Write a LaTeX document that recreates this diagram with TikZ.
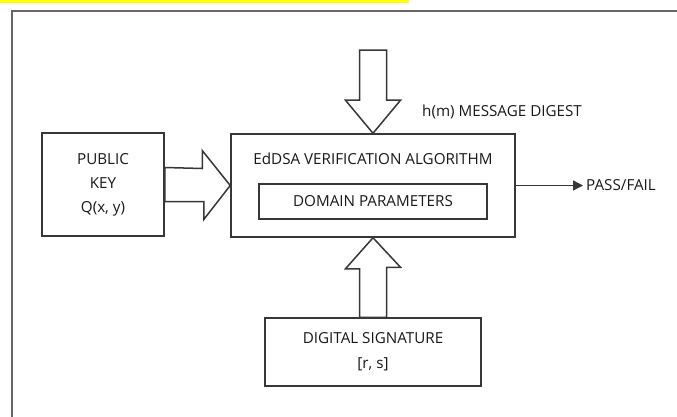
\documentclass[tikz,border=0pt]{standalone}
\usepackage{fontspec}
\setmainfont{Open Sans}
\usetikzlibrary{arrows.meta}
\definecolor{hilite}{RGB}{255,255,0}
\definecolor{linegray}{RGB}{55,55,55}

\begin{document}
\begin{tikzpicture}[x=1pt,y=-1pt,
    box/.style={draw=linegray, line width=1.5pt, fill=white, text=black!90, align=center, inner sep=0pt},
    fat/.style={draw=linegray, line width=1.5pt, line join=miter, fill=white},
    txt/.style={text=black!90, inner sep=0pt, font=\fontsize{15.2}{24}\selectfont}]
    \useasboundingbox (0,0) rectangle (677,417);
    \fill[hilite] (0,0) rectangle (409,3);
    \draw[black!60, line width=2pt] (12,418) -- (12,11) -- (678,11);

    \node[box, minimum width=122pt, minimum height=103pt, font=\fontsize{15.2}{24}\selectfont] (pubkey) at (103,184.5) {PUBLIC\\KEY\\Q(x, y)};
    \node[box, minimum width=284pt, minimum height=103pt] (verify) at (373,185.5) {};
    \node[txt] (title) at (373,159) {EdDSA VERIFICATION ALGORITHM};
    \node[box, minimum width=228pt, minimum height=35pt, font=\fontsize{15.2}{24}\selectfont] (domain) at (373,201.5) {DOMAIN PARAMETERS};
    \node[box, minimum width=216pt, minimum height=68pt, font=\fontsize{15.2}{25}\selectfont] (sig) at (373,352) {DIGITAL SIGNATURE\\{[r, s]}};
    \node[txt, anchor=west] (digest) at (422,112) {h(m) MESSAGE DIGEST};
    \node[txt, anchor=west] (pass) at (586,185.5) {PASS/FAIL};

    \draw[fat] (verify.north) -- ++(-27.5,-33) -- ++(14,0) -- ++(0,-50) -- ++(27,0) -- ++(0,50) -- ++(14,0) -- cycle;
    \draw[fat] (verify.south) -- ++(-27.5,31) -- ++(14,0) -- (sig.north -| 359.5,0) -- (sig.north -| 386.5,0) -- ++(0,-50) -- ++(14,0) -- cycle;
    \draw[fat] (verify.west) -- ++(-28,-35) -- ++(0,18) -- (pubkey.east |- 0,167.5) -- (pubkey.east |- 0,201.5) -- ++(39,0) -- ++(0,18) -- cycle;
    \draw[linegray, line width=1.5pt, -{Triangle[length=10pt,width=10pt]}, shorten >=3pt] (verify.east) -- (pass.west);
\end{tikzpicture}
\end{document}
